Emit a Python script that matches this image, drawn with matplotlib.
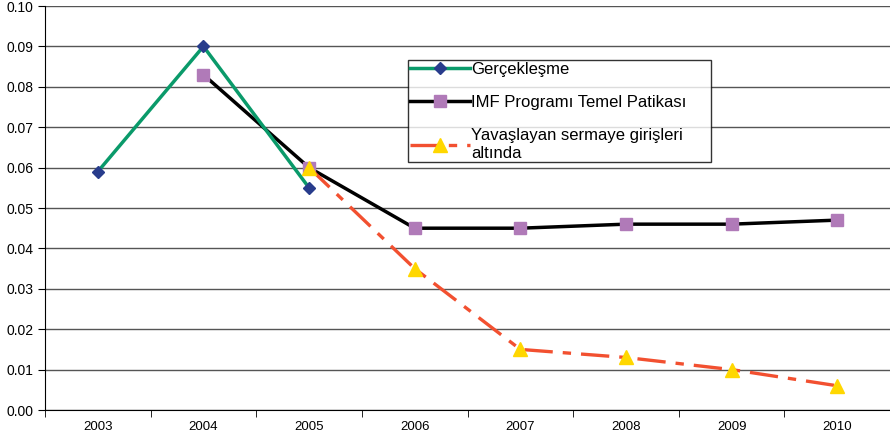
import numpy as np
import matplotlib.pyplot as plt
from matplotlib.ticker import MultipleLocator, FormatStrFormatter

plt.rcParams['font.family'] = ['Liberation Sans', 'DejaVu Sans']

years = ['2003', '2004', '2005', '2006', '2007', '2008', '2009', '2010']
gerceklesme = [0.059, 0.090, 0.055, None, None, None, None, None]
imf_temel = [None, 0.083, 0.060, 0.045, 0.045, 0.046, 0.046, 0.047]
yavaslayan = [None, None, 0.060, 0.035, 0.015, 0.013, 0.010, 0.006]

def arr(v):
    return np.array([np.nan if a is None else a for a in v])

x = np.arange(len(years))

fig = plt.figure(figsize=(8.9, 4.38), dpi=100)
ax = fig.add_axes([45 / 890, 28 / 438, 845 / 890, 404 / 438])

ax.plot(x, arr(imf_temel), color='black', lw=2.5, marker='s', ms=9,
        mfc='#b07ab8', mec='#b07ab8', label='IMF Programı Temel Patikası', zorder=3)
ax.plot(x, arr(gerceklesme), color='#0a9a6a', lw=2.5, marker='D', ms=6.5,
        mfc='#283c8c', mec='#283c8c', label='Gerçekleşme', zorder=4)
ax.plot(x, arr(yavaslayan), color='#f25030', lw=2.4, dashes=(8.5, 3, 2.5, 3),
        marker='^', ms=10, mfc='#ffd700', mec='#ffd700',
        label='Yavaşlayan sermaye girişleri\naltında', zorder=5)

ax.set_xlim(-0.5, len(years) - 0.5)
ax.set_ylim(0, 0.10)
ax.yaxis.set_major_locator(MultipleLocator(0.01))
ax.yaxis.set_major_formatter(FormatStrFormatter('%.2f'))
ax.grid(axis='y', color='#555555', lw=1)
ax.set_axisbelow(True)

ax.set_xticks(x)
ax.set_xticklabels(years)
ax.set_xticks(np.arange(len(years) + 1) - 0.5, minor=True)
ax.tick_params(axis='x', which='major', length=0, pad=8, labelsize=9.5)
ax.tick_params(axis='x', which='minor', length=5, color='black')
ax.tick_params(axis='y', length=5, labelsize=10)

for s in ['top', 'right']:
    ax.spines[s].set_visible(False)
ax.spines['left'].set_color('black')
ax.spines['bottom'].set_color('black')

handles, labels = ax.get_legend_handles_labels()
order = [1, 0, 2]
leg = ax.legend([handles[i] for i in order], [labels[i] for i in order],
                loc='upper left', bbox_to_anchor=(363 / 845, 346 / 404, 303 / 845, 0.01),
                mode='expand', frameon=True, fancybox=False, edgecolor='black',
                fontsize=12, handlelength=3.6, labelspacing=1.1,
                borderpad=0.1, handletextpad=0.1, borderaxespad=0)
leg.get_frame().set_linewidth(1)

fig.savefig('out.png', dpi=100)
